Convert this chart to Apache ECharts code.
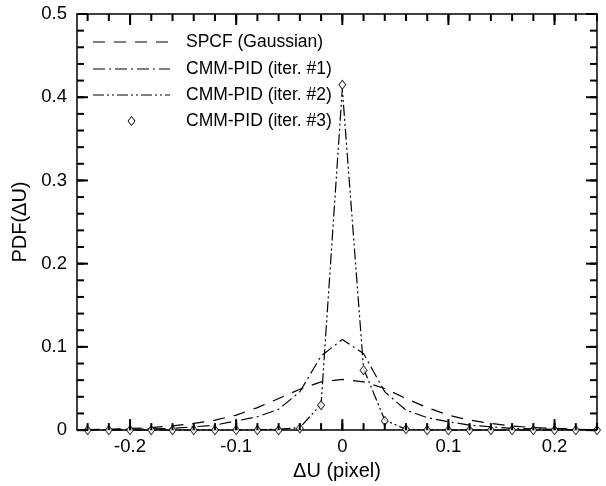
<!DOCTYPE html>
<html>
<head>
<meta charset="utf-8">
<script src="https://cdn.jsdelivr.net/npm/echarts@6/dist/echarts.min.js"></script>
<style>
  html, body { margin: 0; padding: 0; background: #fff; }
  #chart { width: 606px; height: 486px; }
</style>
</head>
<body>
<div id="chart"></div>
<script>
// Displacement error samples (pixel)
const du = [-0.24, -0.22, -0.20, -0.18, -0.16, -0.14, -0.12, -0.10, -0.08, -0.06, -0.04, -0.02, 0,
            0.02, 0.04, 0.06, 0.08, 0.10, 0.12, 0.14, 0.16, 0.18, 0.20, 0.22, 0.24];

// PDF values per method
const spcfGaussian = [0.0005, 0.001, 0.002, 0.003, 0.005, 0.008, 0.012, 0.018, 0.027, 0.038, 0.049, 0.058, 0.061,
                      0.058, 0.050, 0.038, 0.027, 0.018, 0.012, 0.008, 0.005, 0.003, 0.002, 0.001, 0.0005];
const cmmIter1 = [0.0003, 0.0005, 0.001, 0.0015, 0.002, 0.004, 0.006, 0.011, 0.016, 0.025, 0.046, 0.089, 0.109,
                  0.092, 0.046, 0.024, 0.015, 0.010, 0.006, 0.004, 0.002, 0.0015, 0.001, 0.0005, 0.0003];
const cmmIter2 = [0, 0, 0, 0, 0, 0, 0, 0, 0.0005, 0.001, 0.003, 0.031, 0.410,
                  0.074, 0.012, 0.001, 0.0005, 0, 0, 0, 0, 0, 0, 0, 0];
const cmmIter3 = [0, 0, 0, 0, 0, 0, 0, 0, 0, 0, 0.002, 0.030, 0.415,
                  0.072, 0.011, 0.001, 0, 0, 0, 0, 0, 0, 0, 0, 0];

const seriesNames = ['SPCF (Gaussian)', 'CMM-PID (iter. #1)', 'CMM-PID (iter. #2)', 'CMM-PID (iter. #3)'];

// Axis ranges and tick positions
const xRange = [-0.25, 0.24];
const yRange = [0, 0.5];
const xMajorTicks = [-0.2, -0.1, 0, 0.1, 0.2];
const yMajorTicks = [0, 0.1, 0.2, 0.3, 0.4, 0.5];
const minorStep = 0.02;

function stepValues(from, to, step) {
  const out = [];
  for (let k = Math.round(from / step); k * step <= to + 1e-9; k++) out.push(Math.round(k * step * 1000) / 1000);
  return out;
}
const xMinorTicks = stepValues(-0.24, xRange[1], minorStep);
const yMinorTicks = stepValues(yRange[0], yRange[1], minorStep);

const W = 606, H = 486;
const GRID = { left: 77, right: 9, top: 14, bottom: 55 };

const FONT = 'Liberation Sans, Arial, Helvetica, sans-serif';
const INK = '#000';
const MAJOR_LEN = 11;
const MINOR_LEN = 7;

const DASH = [12, 9];
const DASH_DOT = [12, 4, 2, 4];
const DASH_DOT_DOT = [11, 3, 2, 3, 2, 3];
const lineDashes = [DASH, DASH_DOT, DASH_DOT_DOT];

function pairs(ys) { return du.map((x, i) => [x, ys[i]]); }

// Inward tick marks on all four frame sides, as separate two-point segments in data space
const unitsPerPxX = (xRange[1] - xRange[0]) / (W - GRID.left - GRID.right);
const unitsPerPxY = (yRange[1] - yRange[0]) / (H - GRID.top - GRID.bottom);
const tickSegments = [];
function addXTicks(values, len) {
  const d = len * unitsPerPxY;
  values.forEach(v => {
    tickSegments.push([[v, yRange[0]], [v, yRange[0] + d]]);
    tickSegments.push([[v, yRange[1]], [v, yRange[1] - d]]);
  });
}
function addYTicks(values, len) {
  const d = len * unitsPerPxX;
  values.forEach(v => {
    tickSegments.push([[xRange[0], v], [xRange[0] + d, v]]);
    tickSegments.push([[xRange[1], v], [xRange[1] - d, v]]);
  });
}
addXTicks(xMinorTicks, MINOR_LEN);
addXTicks(xMajorTicks, MAJOR_LEN);
addYTicks(yMinorTicks, MINOR_LEN);
addYTicks(yMajorTicks, MAJOR_LEN);

// Legend block in the upper-left of the frame
const legendRows = [42, 69, 95, 121];
const legendLineX = [93, 170];
const legendTextX = 186;
const legendElements = [];
seriesNames.forEach((name, i) => {
  const y = legendRows[i];
  if (i < 3) {
    legendElements.push({
      type: 'line', shape: { x1: legendLineX[0], y1: y, x2: legendLineX[1], y2: y },
      style: { stroke: INK, lineWidth: 1.2, lineDash: lineDashes[i] }
    });
  } else {
    const cx = (legendLineX[0] + legendLineX[1]) / 2;
    legendElements.push({
      type: 'polygon', shape: { points: [[cx, y - 4.5], [cx + 3.5, y], [cx, y + 4.5], [cx - 3.5, y]] },
      style: { fill: '#fff', stroke: INK, lineWidth: 1 }
    });
  }
  legendElements.push({
    type: 'text', x: legendTextX, y: y,
    style: { text: name, fill: INK, fontFamily: FONT, fontSize: 17.5, verticalAlign: 'middle', align: 'left' }
  });
});

const tickSeries = tickSegments.map((seg, i) => ({
  name: 'tick' + i, type: 'line', data: seg, symbol: 'none',
  lineStyle: { color: INK, width: 2, type: 'solid' }, silent: true, clip: false, z: 6
}));

const chart = echarts.init(document.getElementById('chart'), null, { renderer: 'canvas' });

chart.setOption({
  animation: false,
  backgroundColor: '#fff',
  grid: Object.assign({ show: true, borderColor: INK, borderWidth: 1.5, backgroundColor: 'transparent' }, GRID),
  graphic: { elements: legendElements },
  xAxis: {
    type: 'value', min: xRange[0], max: xRange[1],
    axisLine: { show: false },
    axisTick: { show: false },
    axisLabel: { show: true, customValues: xMajorTicks, color: INK, fontFamily: FONT, fontSize: 18.5, margin: 7 },
    splitLine: { show: false },
    name: 'ΔU (pixel)', nameLocation: 'middle', nameGap: 26,
    nameTextStyle: { color: INK, fontFamily: FONT, fontSize: 20 }
  },
  yAxis: {
    type: 'value', min: yRange[0], max: yRange[1], interval: 0.1,
    axisLine: { show: false },
    axisTick: { show: false },
    axisLabel: { show: true, color: INK, fontFamily: FONT, fontSize: 18.5, margin: 10 },
    splitLine: { show: false },
    name: 'PDF(ΔU)', nameLocation: 'middle', nameGap: 47,
    nameTextStyle: { color: INK, fontFamily: FONT, fontSize: 20 }
  },
  series: tickSeries.concat([
    {
      name: seriesNames[0], type: 'line', data: pairs(spcfGaussian), symbol: 'none',
      lineStyle: { color: INK, width: 1.2, type: DASH }, z: 3
    },
    {
      name: seriesNames[1], type: 'line', data: pairs(cmmIter1), symbol: 'none',
      lineStyle: { color: INK, width: 1.2, type: DASH_DOT }, z: 3
    },
    {
      name: seriesNames[2], type: 'line', data: pairs(cmmIter2), symbol: 'none',
      lineStyle: { color: INK, width: 1.2, type: DASH_DOT_DOT }, z: 3
    },
    {
      name: seriesNames[3], type: 'scatter', data: pairs(cmmIter3), symbol: 'diamond', symbolSize: [7, 9],
      itemStyle: { color: '#fff', borderColor: INK, borderWidth: 1 }, z: 5
    }
  ])
});
</script>
</body>
</html>
